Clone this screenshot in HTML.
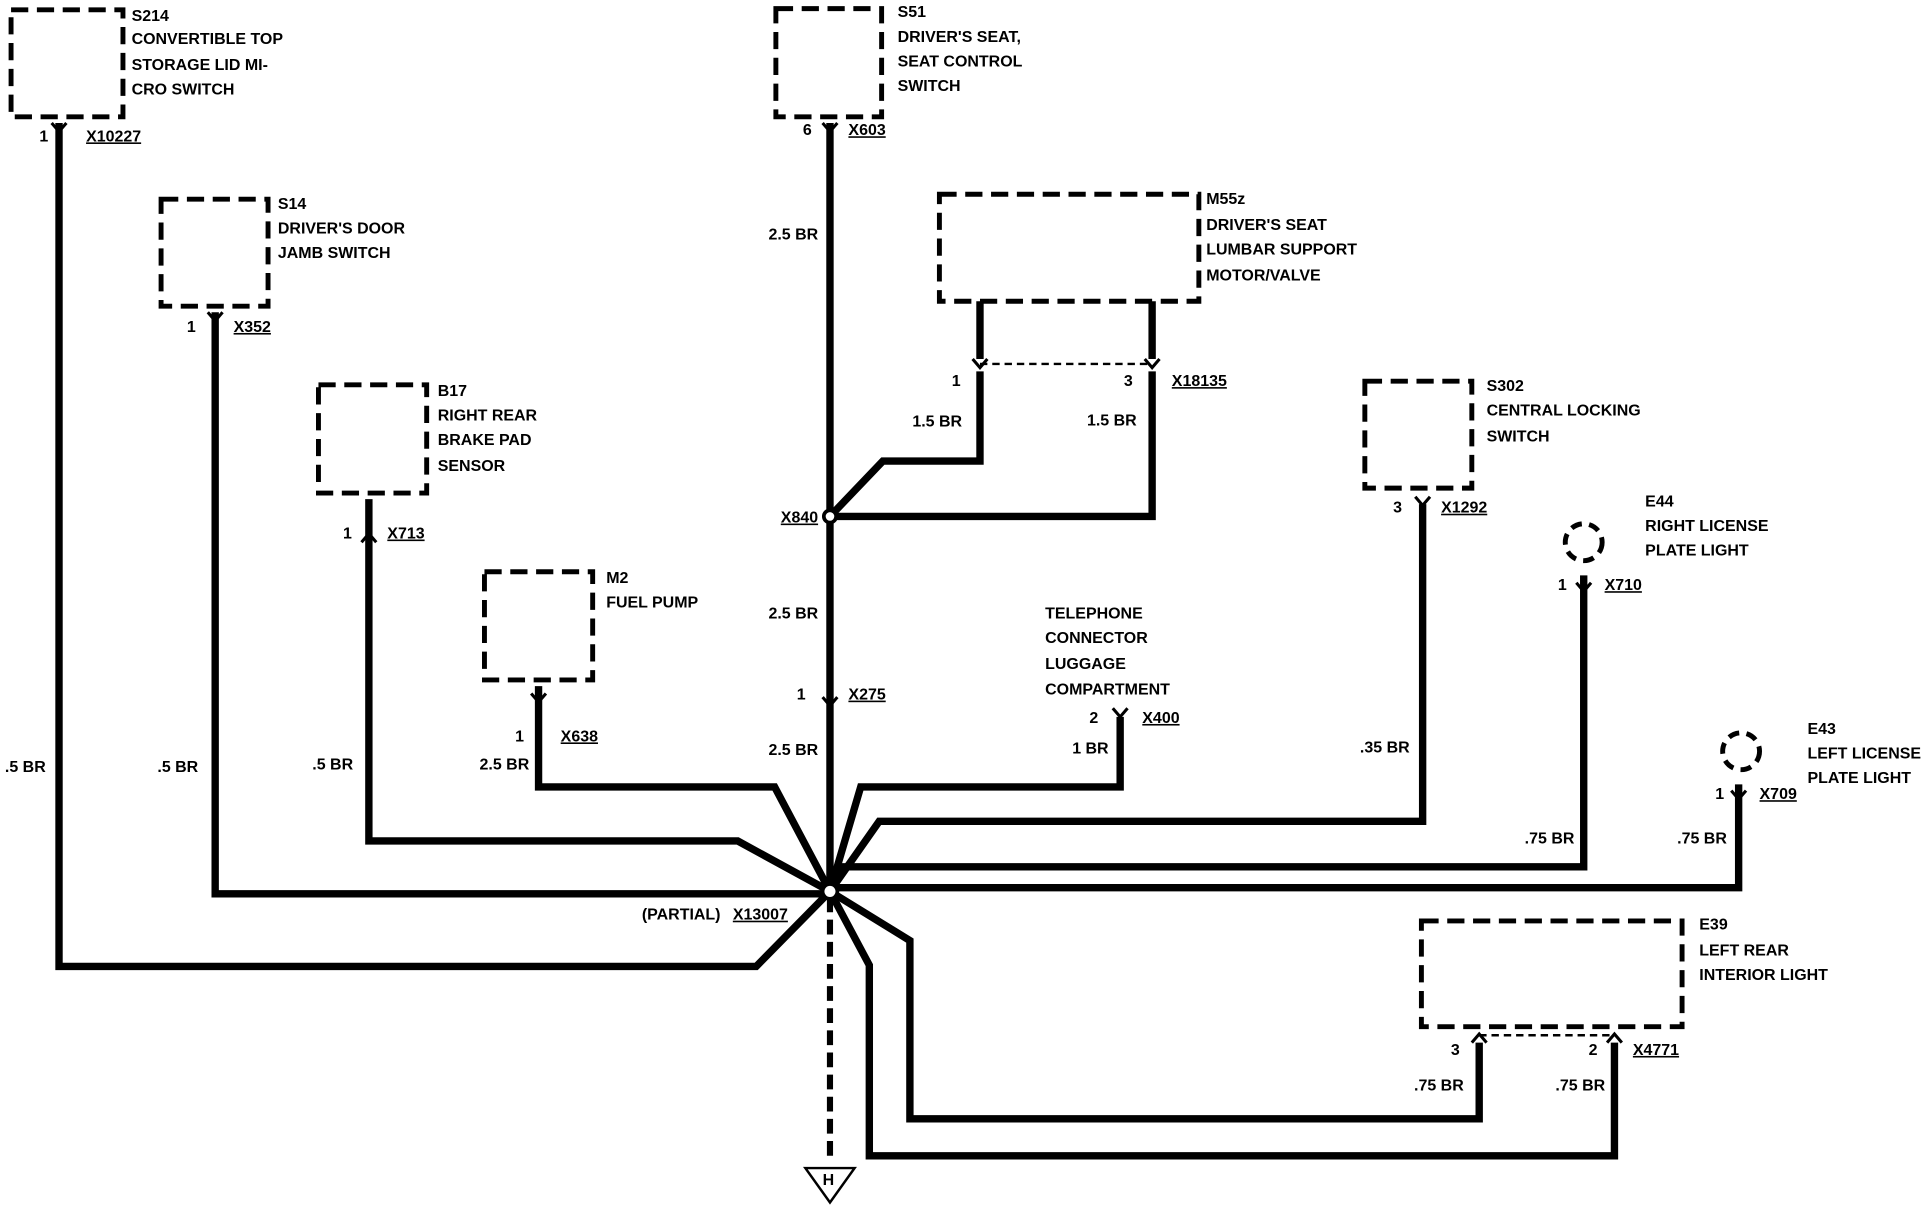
<!DOCTYPE html>
<html><head><meta charset="utf-8"><style>
html,body{margin:0;padding:0;background:#fff;}
svg{display:block}
text{font-family:"Liberation Sans",sans-serif;font-weight:bold;font-size:13px;fill:#000}
</style></head><body>
<svg width="1928" height="1216" viewBox="0 0 1568 989" preserveAspectRatio="none" xmlns="http://www.w3.org/2000/svg">
<g fill="none" stroke="#000" stroke-width="4" stroke-dasharray="14,7">
<rect x="9" y="8" width="91" height="87"/>
<rect x="131" y="162" width="87" height="87"/>
<rect x="259" y="313" width="88" height="88"/>
<rect x="394" y="465" width="88" height="88"/>
<rect x="631" y="7" width="86" height="88"/>
<rect x="764" y="158" width="211" height="87"/>
<rect x="1110" y="310" width="87" height="87"/>
<rect x="1156" y="749" width="212" height="86"/>
<circle cx="1288" cy="441" r="15" stroke-dasharray="9,6"/>
<circle cx="1416" cy="611" r="15" stroke-dasharray="9,6"/>
</g>
<g fill="none" stroke="#000" stroke-width="2" stroke-dasharray="6,4">
<line x1="797" y1="296" x2="937" y2="296"/>
<line x1="1203" y1="842" x2="1313" y2="842"/>
</g>
<line x1="675" y1="730" x2="675" y2="945" stroke="#000" stroke-width="5" stroke-dasharray="12,6"/>
<polygon points="655,950 695,950 675,978" fill="#fff" stroke="#000" stroke-width="2"/>
<text x="669" y="964" font-size="12">H</text>
<g fill="none" stroke="#000" stroke-width="6" stroke-linejoin="miter">
<polyline points="48,100 48,786 615,786 675,725"/>
<polyline points="175,254 175,727 675,727"/>
<polyline points="300,406 300,684 600,684 675,725"/>
<polyline points="438,558 438,640 630,640 675,725"/>
<polyline points="675,100 675,725"/>
<polyline points="797,245 797,292"/>
<polyline points="937,245 937,292"/>
<polyline points="797,302 797,375 718,375 675,420"/>
<polyline points="937,302 937,420 675,420"/>
<polyline points="911,583 911,640 700,640 675,725"/>
<polyline points="1157,410 1157,668 715,668 675,725"/>
<polyline points="1288,468 1288,705 685,705 675,725"/>
<polyline points="1414,638 1414,722 680,722"/>
<polyline points="1203,848 1203,910 740,910 740,765 675,725"/>
<polyline points="1313,848 1313,940 707,940 707,785 675,725"/>
</g>
<g fill="none" stroke="#000" stroke-width="2.5">
<polyline points="42,100 48,107 54,100"/>
<polyline points="169,254 175,261 181,254"/>
<polyline points="294,441 300,434 306,441"/>
<polyline points="432,564 438,571 444,564"/>
<polyline points="669,100 675,107 681,100"/>
<polyline points="791,292 797,299 803,292"/>
<polyline points="931,292 937,299 943,292"/>
<polyline points="669,567 675,574 681,567"/>
<polyline points="905,576 911,583 917,576"/>
<polyline points="1151,404 1157,411 1163,404"/>
<polyline points="1282,474 1288,481 1294,474"/>
<polyline points="1408,643 1414,650 1420,643"/>
<polyline points="1197,848 1203,841 1209,848"/>
<polyline points="1307,848 1313,841 1319,848"/>
</g>
<circle cx="675" cy="420" r="5" fill="#fff" stroke="#000" stroke-width="3"/>
<circle cx="675" cy="725" r="6" fill="#fff" stroke="#000" stroke-width="3"/>
<g>
<text x="107" y="17">S214</text><text x="107" y="36">CONVERTIBLE TOP</text><text x="107" y="57">STORAGE LID MI-</text><text x="107" y="77">CRO SWITCH</text>
<text x="32" y="115">1</text><text x="70" y="115" text-decoration="underline">X10227</text>
<text x="226" y="170">S14</text><text x="226" y="190">DRIVER'S DOOR</text><text x="226" y="210">JAMB SWITCH</text>
<text x="152" y="270">1</text><text x="190" y="270" text-decoration="underline">X352</text>
<text x="356" y="322">B17</text><text x="356" y="342">RIGHT REAR</text><text x="356" y="362">BRAKE PAD</text><text x="356" y="383">SENSOR</text>
<text x="279" y="438">1</text><text x="315" y="438" text-decoration="underline">X713</text>
<text x="493" y="474">M2</text><text x="493" y="494">FUEL PUMP</text>
<text x="419" y="603">1</text><text x="456" y="603" text-decoration="underline">X638</text>
<text x="730" y="14">S51</text><text x="730" y="34">DRIVER'S SEAT,</text><text x="730" y="54">SEAT CONTROL</text><text x="730" y="74">SWITCH</text>
<text x="653" y="110">6</text><text x="690" y="110" text-decoration="underline">X603</text>
<text x="625" y="195">2.5 BR</text>
<text x="981" y="166">M55z</text><text x="981" y="187">DRIVER'S SEAT</text><text x="981" y="207">LUMBAR SUPPORT</text><text x="981" y="228">MOTOR/VALVE</text>
<text x="774" y="314">1</text><text x="914" y="314">3</text><text x="953" y="314" text-decoration="underline">X18135</text>
<text x="742" y="347">1.5 BR</text><text x="884" y="346">1.5 BR</text>
<text x="635" y="425" text-decoration="underline">X840</text>
<text x="625" y="503">2.5 BR</text>
<text x="648" y="569">1</text><text x="690" y="569" text-decoration="underline">X275</text>
<text x="625" y="614">2.5 BR</text>
<text x="850" y="503">TELEPHONE</text><text x="850" y="523">CONNECTOR</text><text x="850" y="544">LUGGAGE</text><text x="850" y="565">COMPARTMENT</text>
<text x="886" y="588">2</text><text x="929" y="588" text-decoration="underline">X400</text>
<text x="872" y="613">1 BR</text>
<text x="1209" y="318">S302</text><text x="1209" y="338">CENTRAL LOCKING</text><text x="1209" y="359">SWITCH</text>
<text x="1133" y="417">3</text><text x="1172" y="417" text-decoration="underline">X1292</text>
<text x="1106" y="612">.35 BR</text>
<text x="1338" y="412">E44</text><text x="1338" y="432">RIGHT LICENSE</text><text x="1338" y="452">PLATE LIGHT</text>
<text x="1267" y="480">1</text><text x="1305" y="480" text-decoration="underline">X710</text>
<text x="1240" y="686">.75 BR</text>
<text x="1470" y="597">E43</text><text x="1470" y="617">LEFT LICENSE</text><text x="1470" y="637">PLATE LIGHT</text>
<text x="1395" y="650">1</text><text x="1431" y="650" text-decoration="underline">X709</text>
<text x="1364" y="686">.75 BR</text>
<text x="1382" y="756">E39</text><text x="1382" y="777">LEFT REAR</text><text x="1382" y="797">INTERIOR LIGHT</text>
<text x="1180" y="858">3</text><text x="1292" y="858">2</text><text x="1328" y="858" text-decoration="underline">X4771</text>
<text x="1150" y="887">.75 BR</text><text x="1265" y="887">.75 BR</text>
<text x="4" y="628">.5 BR</text><text x="128" y="628">.5 BR</text><text x="254" y="626">.5 BR</text>
<text x="390" y="626">2.5 BR</text>
<text x="522" y="748">(PARTIAL)</text><text x="596" y="748" text-decoration="underline">X13007</text>
</g>
</svg>
</body></html>
